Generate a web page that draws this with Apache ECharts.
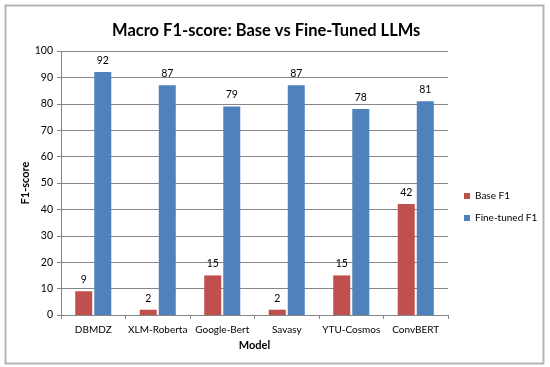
<!DOCTYPE html>
<html><head><meta charset="utf-8">
<script src="https://cdn.jsdelivr.net/npm/echarts@6/dist/echarts.min.js"></script>
<style>html,body{margin:0;padding:0;background:#fff}#c{width:550px;height:367px}</style>
</head><body><div id="c"></div>
<script>
const categories = ['DBMDZ','XLM-Roberta','Google-Bert','Savasy','YTU-Cosmos','ConvBERT'];
const baseF1 = [9,2,15,2,15,42];
const fineTunedF1 = [92,87,79,87,78,81];
const yTicks = {min:0,max:100,interval:10};
const FONT = 'Lato, "Open Sans", sans-serif';
const chart = echarts.init(document.getElementById('c'));
chart.setOption({
  animation:false,
  textStyle:{fontFamily:FONT},
  graphic:[{type:'rect',shape:{x:5.5,y:5.5,width:538,height:358},style:{fill:'none',stroke:'#b5b5b5',lineWidth:2}}],
  title:{text:'Macro F1-score: Base vs Fine-Tuned LLMs',left:107,top:17,textStyle:{fontFamily:FONT,fontSize:16.5,fontWeight:'bold',color:'#000'}},
  legend:{orient:'vertical',left:459,top:186,itemWidth:6,itemHeight:6,itemGap:12,icon:'rect',textStyle:{fontFamily:FONT,fontSize:10,color:'#000'},data:['Base F1','Fine-tuned F1']},
  grid:{left:61,right:102,top:51,bottom:52},
  xAxis:{type:'category',data:categories,name:'Model',nameLocation:'middle',nameGap:24,
    nameTextStyle:{fontFamily:FONT,fontWeight:'bold',fontSize:11,color:'#000'},
    axisLine:{lineStyle:{color:'#868686'}},axisTick:{show:true,length:4,lineStyle:{color:'#868686'}},
    axisLabel:{interval:0,fontFamily:FONT,fontSize:10,color:'#000',margin:10}},
  yAxis:{type:'value',min:yTicks.min,max:yTicks.max,interval:yTicks.interval,name:'F1-score',nameLocation:'middle',nameGap:30,nameMoveOverlap:false,
    nameTextStyle:{fontFamily:FONT,fontWeight:'bold',fontSize:11,color:'#000'},
    axisLine:{show:true,lineStyle:{color:'#868686'}},axisTick:{show:true,length:4,lineStyle:{color:'#868686'}},
    splitLine:{lineStyle:{color:'#868686'}},
    axisLabel:{fontFamily:FONT,fontSize:10.5,color:'#000',margin:8}},
  series:[
    {name:'Base F1',type:'bar',data:baseF1,barWidth:17,barGap:'12%',itemStyle:{color:'#C0504D'},
     label:{show:true,position:'top',fontFamily:FONT,fontSize:10.5,color:'#000',distance:6}},
    {name:'Fine-tuned F1',type:'bar',data:fineTunedF1,barWidth:17,itemStyle:{color:'#4F81BD'},
     label:{show:true,position:'top',fontFamily:FONT,fontSize:10.5,color:'#000',distance:6}}
  ]
});
</script></body></html>
